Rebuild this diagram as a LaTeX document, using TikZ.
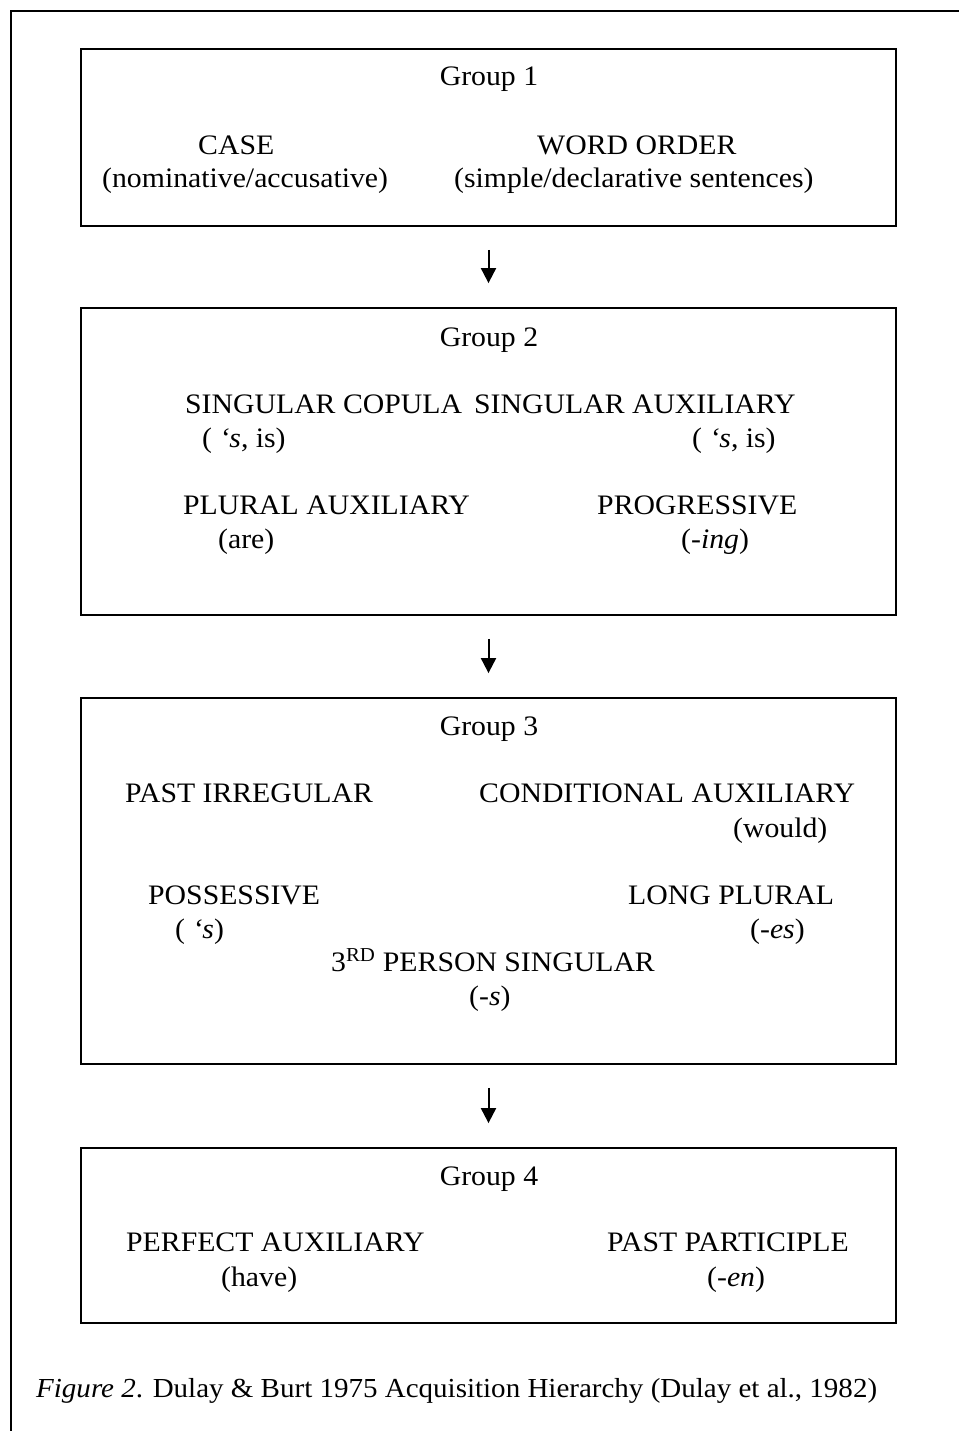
\documentclass[tikz,border=0pt]{standalone}
\usepackage{fontspec}
\setmainfont{Liberation Serif}[FakeStretch=1.055]
\usetikzlibrary{arrows.meta}
\begin{document}
\begin{tikzpicture}[x=1pt,y=-1pt,
  box/.style={draw,line width=1.8pt,inner sep=0pt,minimum width=815pt},
  lbl/.style={anchor=base west,inner sep=0pt,font=\fontsize{28.2}{30}\selectfont},
  ttl/.style={anchor=base,inner sep=0pt,font=\fontsize{28.2}{30}\selectfont},
  capt/.style={anchor=base west,inner sep=0pt,font=\fontsize{27.5}{30}\selectfont},
  arr/.style={-{Triangle[width=15pt,length=15pt]},line width=2pt,shorten <=23pt,shorten >=24pt}]
\useasboundingbox (0,0) rectangle (958,1431);
% outer frame (open at right and bottom)
\draw[line width=1.8pt] (11,1440) -- (11,11) -- (970,11);
% boxes
\node[box,minimum height=177pt] (g1) at (488.5,137.5) {};
\node[box,minimum height=307pt] (g2) at (488.5,461.5) {};
\node[box,minimum height=366pt] (g3) at (488.5,881) {};
\node[box,minimum height=175pt] (g4) at (488.5,1235.5) {};
% arrows
\draw[arr] (g1.south) -- (g2.north);
\draw[arr] (g2.south) -- (g3.north);
\draw[arr] (g3.south) -- (g4.north);
% group 1
\node[ttl] (t1) at (489,86) {Group 1};
\node[lbl] (case) at (198,155) {CASE};
\node[lbl] (casex) at (102,188) {(nominative/accusative)};
\node[lbl] (wo) at (537,155) {WORD ORDER};
\node[lbl] (wox) at (454,188) {(simple/declarative sentences)};
% group 2
\node[ttl] (t2) at (489,346) {Group 2};
\node[lbl] (sc) at (185,413) {SINGULAR COPULA};
\node[lbl] (sa) at (474,413) {SINGULAR AUXILIARY};
\node[lbl] (scx) at (202,447) {( \textit{‘s}, is)};
\node[lbl] (sax) at (692,447) {( \textit{‘s}, is)};
\node[lbl] (pa) at (183,514) {PLURAL AUXILIARY};
\node[lbl] (pax) at (218,548) {(are)};
\node[lbl] (pr) at (597,514) {PROGRESSIVE};
\node[lbl] (prx) at (681,548) {(-\textit{ing})};
% group 3
\node[ttl] (t3) at (489,735) {Group 3};
\node[lbl] (pi) at (125,802) {PAST IRREGULAR};
\node[lbl] (ca) at (479,802) {CONDITIONAL AUXILIARY};
\node[lbl] (cax) at (733,837) {(would)};
\node[lbl] (po) at (148,904) {POSSESSIVE};
\node[lbl] (pox) at (175,938) {( \textit{‘s})};
\node[lbl] (lp) at (628,904) {LONG PLURAL};
\node[lbl] (lpx) at (750,938) {(-\textit{es})};
\node[lbl] (tp) at (331,971) {3\textsuperscript{RD} PERSON SINGULAR};
\node[lbl] (tpx) at (469,1005) {(-\textit{s})};
% group 4
\node[ttl] (t4) at (489,1185) {Group 4};
\node[lbl] (pf) at (126,1251) {PERFECT AUXILIARY};
\node[lbl] (pfx) at (221,1286) {(have)};
\node[lbl] (pp) at (607,1251) {PAST PARTICIPLE};
\node[lbl] (ppx) at (707,1286) {(-\textit{en})};
% caption
\node[capt] (cap) at (36,1397) {\textit{Figure 2}. Dulay \& Burt 1975 Acquisition Hierarchy (Dulay et al., 1982)};
\end{tikzpicture}
\end{document}
